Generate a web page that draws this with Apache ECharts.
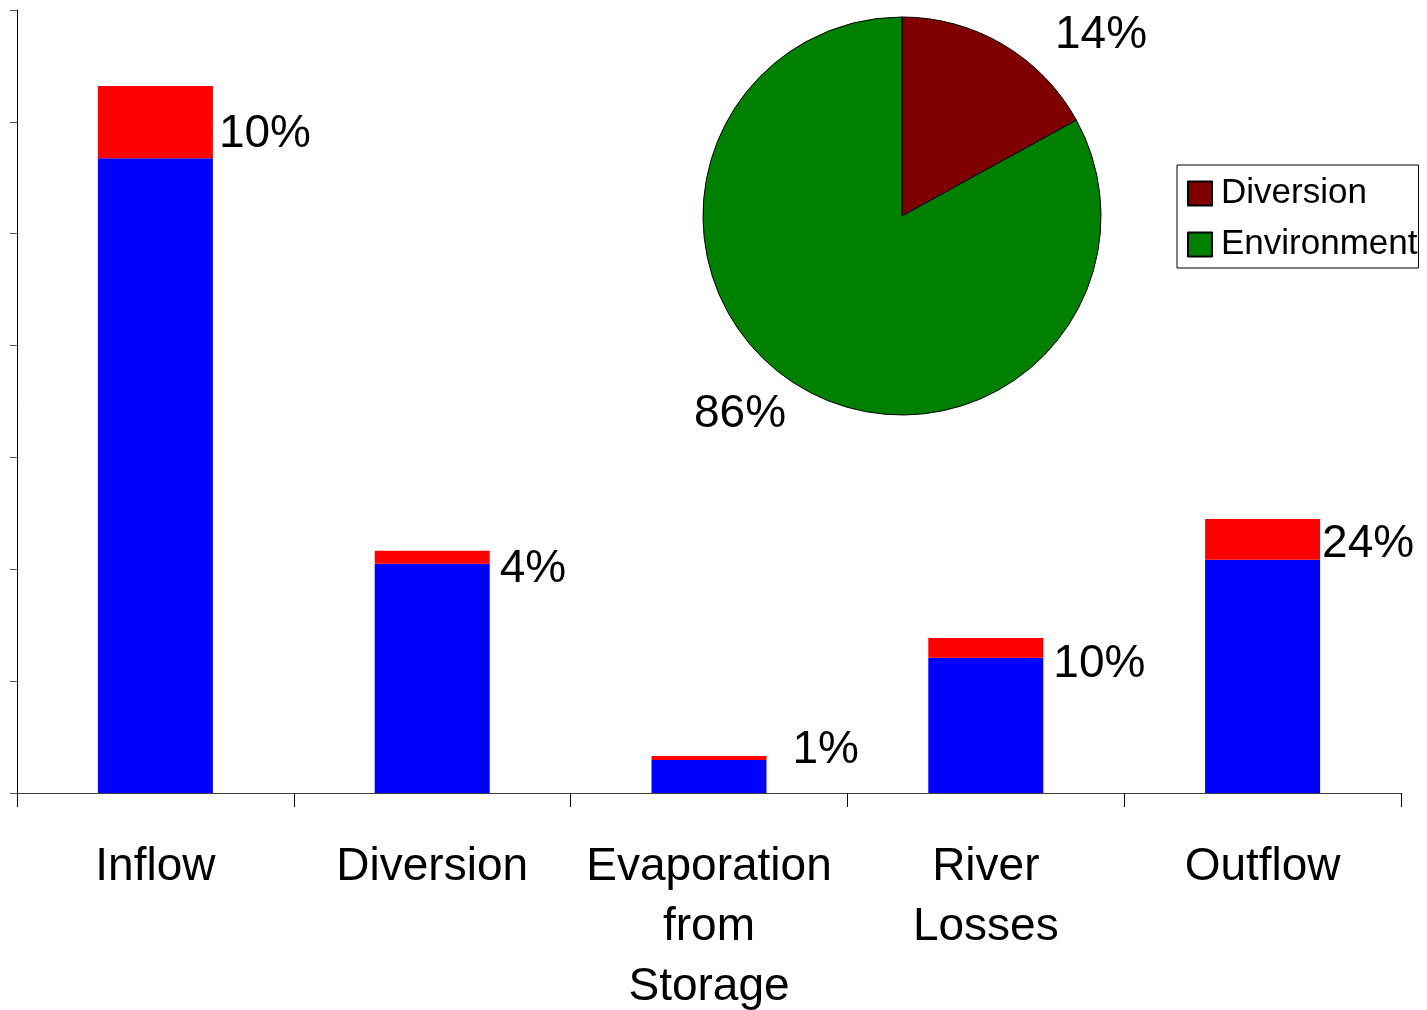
<!DOCTYPE html>
<html>
<head>
<meta charset="utf-8">
<title>Water balance</title>
<script src="https://cdn.jsdelivr.net/npm/echarts@6/dist/echarts.min.js"></script>
<style>
  html, body { margin: 0; padding: 0; background: #fff; }
  #chart { width: 1427px; height: 1010px; }
</style>
</head>
<body>
<div id="chart"></div>
<script>
// bar chart data (axis units = one tick)
var categories = ['Inflow', 'Diversion', 'Evaporation\nfrom\nStorage', 'River\nLosses', 'Outflow'];
var blueValues = [5.675, 2.05, 0.295, 1.21, 2.085];
var redValues = [0.645, 0.115, 0.035, 0.175, 0.365];
var pctLabels = ['10%', '4%', '1%', '10%', '24%'];

// pie data
var pieNames = ['Diversion', 'Environment'];
var pieValues = [17, 83];
var pieLabels = ['14%', '86%'];

var FONT = 'Liberation Sans, Arial, sans-serif';

// small nudges so the % texts sit where they do in the original
var labelNudge = [[0, 12], [4, 12], [20, -8], [4, 16], [-4, 5]];

var chart = echarts.init(document.getElementById('chart'));

var redData = [];
for (var i = 0; i < redValues.length; i++) {
  redData.push({
    value: redValues[i],
    label: { offset: labelNudge[i] }
  });
}

var pieData = [];
var pieColors = ['#800000', '#008000'];
for (var i = 0; i < pieNames.length; i++) {
  pieData.push({ name: pieNames[i], value: pieValues[i], itemStyle: { color: pieColors[i] } });
}

var option = {
  backgroundColor: '#fff',
  animation: false,
  textStyle: { fontFamily: FONT },
  grid: { left: 17, right: 26, top: 10, bottom: 217, containLabel: false, outerBoundsMode: 'none' },
  legend: {
    data: pieNames,
    orient: 'vertical',
    left: 1177,
    top: 165,
    width: 242,
    padding: [11, 1, 6, 10],
    itemGap: 16,
    itemWidth: 24,
    itemHeight: 24,
    icon: 'rect',
    borderColor: '#000',
    borderWidth: 1,
    textStyle: { fontSize: 35, color: '#000', fontFamily: FONT, lineHeight: 35, padding: [0, 0, 0, 4] }
  },
  xAxis: {
    type: 'category',
    data: categories,
    boundaryGap: true,
    axisLine: { lineStyle: { color: '#404040', width: 1 } },
    axisTick: { show: true, length: 14, alignWithLabel: false, lineStyle: { color: '#000' } },
    axisLabel: { interval: 0, fontSize: 46, lineHeight: 60, color: '#000', margin: 44, fontFamily: FONT }
  },
  yAxis: {
    type: 'value',
    min: 0,
    max: 7,
    interval: 1,
    axisLine: { show: true, lineStyle: { color: '#000', width: 1 } },
    axisTick: { show: true, length: 7, lineStyle: { color: '#555' } },
    axisLabel: { show: false },
    splitLine: { show: false }
  },
  series: [
    {
      name: 'base',
      type: 'bar',
      stack: 'total',
      barWidth: 115,
      itemStyle: { color: '#0000ff' },
      data: blueValues
    },
    {
      name: 'top',
      type: 'bar',
      stack: 'total',
      barWidth: 115,
      itemStyle: { color: '#ff0000' },
      label: {
        show: true,
        position: 'right',
        distance: 6,
        fontSize: 46,
        color: '#000',
        fontFamily: FONT,
        formatter: function (p) { return pctLabels[p.dataIndex]; }
      },
      data: redData
    },
    {
      name: 'share',
      type: 'pie',
      center: [902, 216],
      radius: 199,
      startAngle: 90,
      clockwise: true,
      itemStyle: { borderColor: '#000', borderWidth: 1 },
      label: {
        show: true,
        position: 'outside',
        fontSize: 46,
        color: '#000',
        fontFamily: FONT,
        formatter: function (p) { return pieLabels[p.dataIndex]; }
      },
      labelLine: { show: false },
      labelLayout: function (p) {
        if (p.dataIndex === 0) {
          return { x: 1101, y: 35, align: 'center', verticalAlign: 'middle' };
        }
        return { x: 740, y: 414, align: 'center', verticalAlign: 'middle' };
      },
      emphasis: { disabled: true },
      data: pieData
    }
  ]
};

chart.setOption(option);
</script>
</body>
</html>
